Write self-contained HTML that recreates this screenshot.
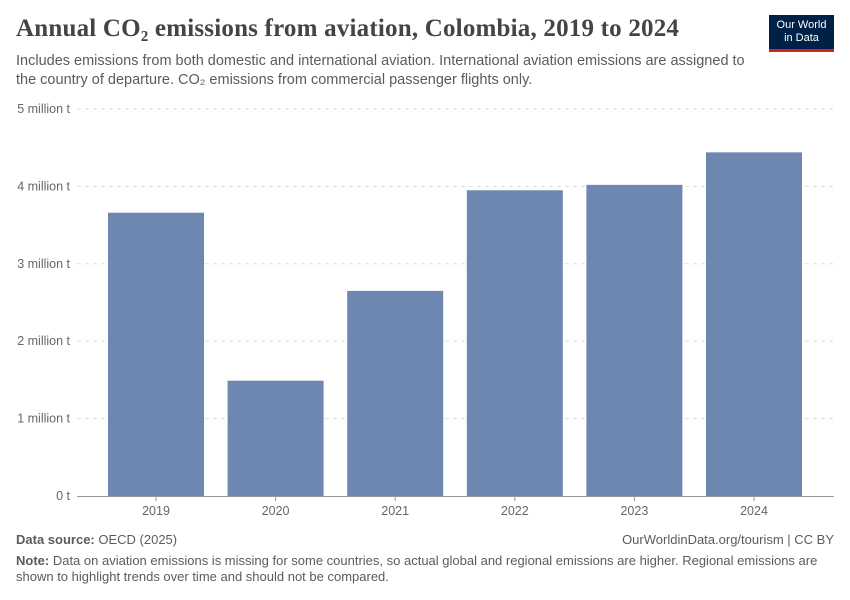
<!DOCTYPE html>
<html><head><meta charset="utf-8"><style>
body{margin:0;width:850px;height:600px;background:#fff;font-family:"Liberation Sans",sans-serif;position:relative;overflow:hidden}
.t{position:absolute}
</style></head><body>
<div class="t" style="left:16px;top:15px;font-family:'Liberation Serif',serif;font-size:25px;font-weight:bold;letter-spacing:0.2px;color:#444">Annual CO₂ emissions from aviation, Colombia, 2019 to 2024</div>
<div class="t" style="left:16px;top:52px;font-size:14.5px;color:#5b5b5b;line-height:19px;width:750px">Includes emissions from both domestic and international aviation. International aviation emissions are assigned to the country of departure. CO₂ emissions from commercial passenger flights only.</div>
<div class="t" style="left:769px;top:15px;width:65px;height:37px;background:#002147;border-bottom:3px solid #ce261e;color:#fff;font-size:11px;line-height:13px;text-align:center;padding-top:4px;box-sizing:border-box">Our World<br>in Data</div>
<svg class="t" style="left:0;top:0" width="850" height="600" id="c"></svg>
<div class="t" style="left:16px;top:532px;font-size:13px;color:#5b5b5b"><b>Data source:</b> OECD (2025)</div>
<div class="t" style="right:16px;top:532px;font-size:13px;color:#5b5b5b">OurWorldinData.org/tourism | CC BY</div>
<div class="t" style="left:16px;top:553px;font-size:13px;color:#5b5b5b;line-height:16px;width:815px"><b>Note:</b> Data on aviation emissions is missing for some countries, so actual global and regional emissions are higher. Regional emissions are shown to highlight trends over time and should not be compared.</div>
<script>
const categories=["2019","2020","2021","2022","2023","2024"];
const values=[3.66,1.49,2.65,3.95,4.02,4.44];
const ticks=[0,1,2,3,4,5];
const tickLabels=["0 t","1 million t","2 million t","3 million t","4 million t","5 million t"];
const svg=document.getElementById('c');const NS='http://www.w3.org/2000/svg';
const y0=496,pxPer=77.4,x0=96.2,band=119.6,bw=96;
const y=v=>y0-v*pxPer;const x=i=>x0+i*band+(band-bw)/2;
function mk(t,a){const e=document.createElementNS(NS,t);for(const k in a)e.setAttribute(k,a[k]);svg.appendChild(e);return e;}
ticks.forEach((v,i)=>{
 if(v>0){const l=mk('line',{x1:77,x2:834,y1:y(v),y2:y(v),stroke:'#ddd','stroke-dasharray':'4,4'});
 
 }
 const t=mk('text',{x:70,y:y(v)+4,'text-anchor':'end','font-size':12.5,fill:'#666','font-family':'Liberation Sans'});t.textContent=tickLabels[i];
 
 
});
const ax=mk('line',{x1:77,x2:834,y1:y0+0.5,y2:y0+0.5,stroke:'#999'});


values.forEach((v,i)=>{
 const r=mk('rect',{x:x(i),y:y(v),width:bw,height:y0-y(v),fill:'#6d87b0'});
 
 
 const tk=mk('line',{x1:x(i)+bw/2,x2:x(i)+bw/2,y1:y0,y2:y0+5,stroke:'#999'});
 
 
 const t=mk('text',{x:x(i)+bw/2,y:y0+19,'text-anchor':'middle','font-size':12.5,fill:'#666','font-family':'Liberation Sans'});t.textContent=categories[i];
 
 
});
</script>
</body></html>
